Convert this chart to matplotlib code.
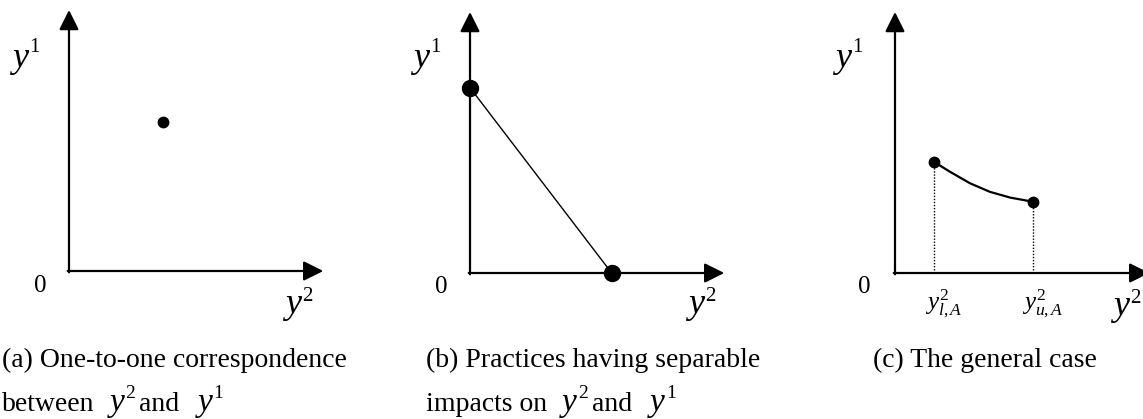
import matplotlib
matplotlib.use("Agg")
import matplotlib.pyplot as plt

plt.rcParams['font.family'] = ['Liberation Serif', 'DejaVu Serif']
plt.rcParams['mathtext.fontset'] = 'custom'
plt.rcParams['mathtext.rm'] = 'Liberation Serif'
plt.rcParams['mathtext.it'] = 'Liberation Serif:italic'

# ---- data (axis length = 10 units) ----
a_point_x = [3.7]
a_point_y = [5.7]

b_line_x = [0.0, 5.6]
b_line_y = [7.1, 0.0]

c_curve_x = [1.54, 2.17, 2.96, 3.75, 4.55, 5.45]
c_curve_y = [4.26, 3.88, 3.44, 3.11, 2.89, 2.73]
c_end_x = [1.54, 5.45]
c_end_y = [4.26, 2.73]
c_tick_labels = [r'$y^2_{l,A}$', r'$y^2_{u,A}$']

caption_line1 = ["(a) One-to-one correspondence",
                 "(b) Practices having separable",
                 "(c) The general case"]
caption_line2_lead = ["between", "impacts on", None]

W, H = 1143, 419
fig = plt.figure(figsize=(W / 100, H / 100), dpi=100)
renderer = fig.canvas.get_renderer()

origins = [(69, 271), (470, 273), (895, 273)]
xlen, ylen = 253, 261

CAP = 20      # caption text size
VAR = 26      # axis variable size
SUP = 15      # superscript size


def make_ax(ox, oy):
    ax = fig.add_axes([ox / W, (H - oy) / H, xlen / W, ylen / H])
    ax.set_xlim(0, 10)
    ax.set_ylim(0, 10)
    ax.axis('off')
    arrow = dict(arrowstyle='-|>,head_length=0.4,head_width=0.2',
                 mutation_scale=30, lw=1.6, color='black',
                 shrinkA=0, shrinkB=0)
    ax.annotate('', xy=(10.05, 0), xytext=(-0.05, 0), arrowprops=arrow,
                annotation_clip=False)
    ax.annotate('', xy=(0, 10), xytext=(0, -0.05), arrowprops=arrow,
                annotation_clip=False)
    return ax


def seq(ax, pieces, dx, dy):
    """pieces: (text, size, style, raise_px, gap_after_px)"""
    x = dx
    for txt, size, style, rz, gap in pieces:
        t = ax.annotate(txt, xy=(0, 0), xytext=(x, dy + rz),
                        textcoords='offset pixels', ha='left', va='baseline',
                        fontsize=size, style=style, annotation_clip=False)
        x += t.get_window_extent(renderer).width + gap


def var(ax, sup, dx, dy, rz):
    seq(ax, [('y', VAR, 'italic', 0, 1), (sup, SUP, 'normal', rz, 0)], dx, dy)


def zero(ax, dx, dy):
    ax.annotate('0', xy=(0, 0), xytext=(dx, dy), textcoords='offset pixels',
                ha='center', va='baseline', fontsize=18, annotation_clip=False)


axes = [make_ax(*o) for o in origins]

# Panel a
ax = axes[0]
ax.plot(a_point_x, a_point_y, 'o', color='black', markersize=7.5, clip_on=False)
var(ax, '1', -57, 204, 15)
zero(ax, -29, -21)
var(ax, '2', 216, -42, 12)

# Panel b
ax = axes[1]
ax.plot(b_line_x, b_line_y, '-', color='black', lw=1.0, clip_on=False)
ax.plot(b_line_x, b_line_y, 'o', color='black', markersize=11.5, clip_on=False)
var(ax, '1', -57, 206, 15)
zero(ax, -29, -20)
var(ax, '2', 218, -40, 12)

# Panel c
ax = axes[2]
ax.plot(c_curve_x, c_curve_y, '-', color='black', lw=1.6, clip_on=False,
        solid_joinstyle='round')
ax.plot(c_end_x, c_end_y, 'o', color='black', markersize=7.5, clip_on=False)
ax.vlines(c_end_x, 0, c_end_y, colors='black', linestyles=(0, (1, 1.2)), lw=1.0)
var(ax, '1', -60, 206, 15)
zero(ax, -31, -20)
var(ax, '2', 218, -42, 12)
for xv, t in zip(c_end_x, c_tick_labels):
    ax.annotate(t, xy=(xv, 0), xytext=(10, -37), textcoords='offset pixels',
                ha='center', va='baseline', fontsize=18, annotation_clip=False)

# Captions
cap_dx = [-67, -44, -22]
cap_dy = [-96, -94, -94]
for ax, l1, lead, cdx, cdy in zip(axes, caption_line1, caption_line2_lead,
                                  cap_dx, cap_dy):
    seq(ax, [(l1, CAP, 'normal', 0, 0)], cdx, cdy)
    if lead is not None:
        seq(ax, [(lead, CAP, 'normal', 0, 15),
                 ('y', 24, 'italic', 0, 1),
                 ('2', 14, 'normal', 13, 4),
                 ('and', CAP, 'normal', 0, 18),
                 ('y', 24, 'italic', 0, 1),
                 ('1', 14, 'normal', 13, 0)], cdx, cdy - 44)

fig.savefig('out.png', dpi=100)
